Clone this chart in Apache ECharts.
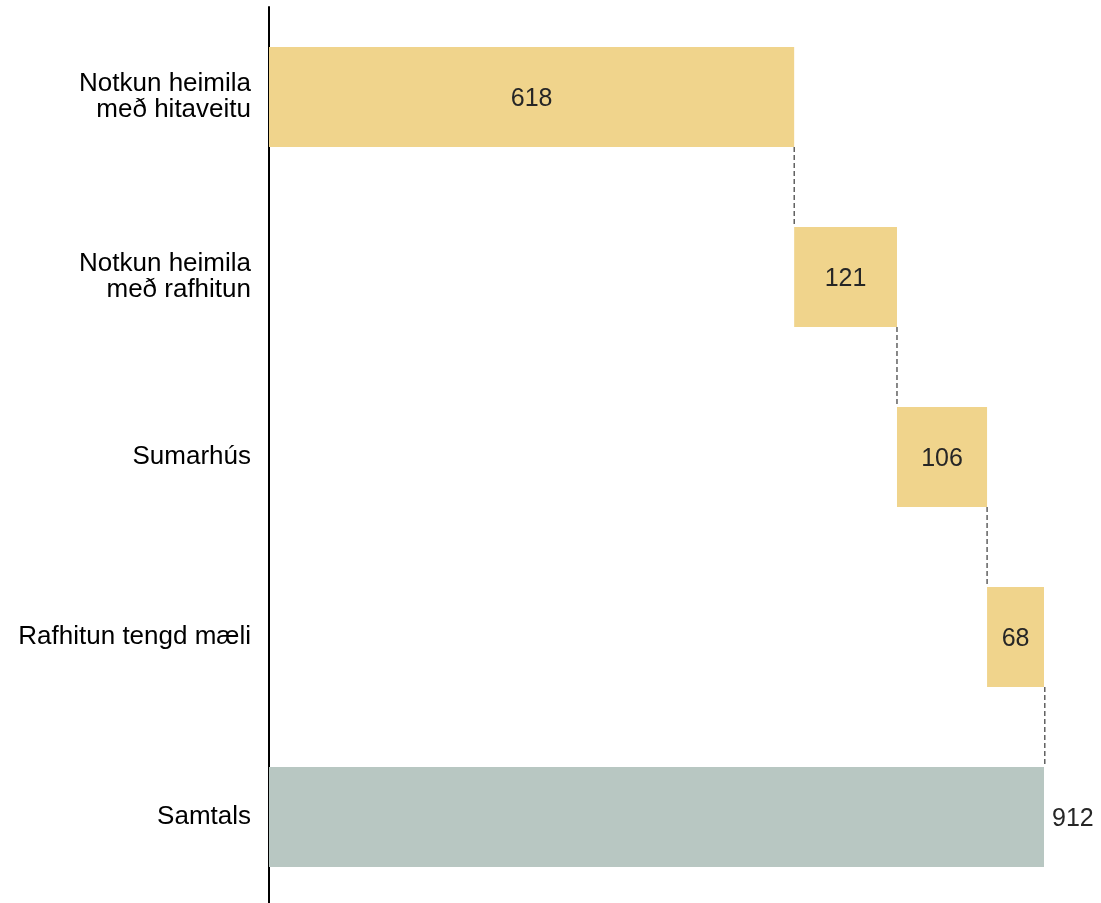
<!DOCTYPE html>
<html>
<head>
<meta charset="utf-8">
<script src="https://cdn.jsdelivr.net/npm/echarts@6/dist/echarts.min.js"></script>
<style>html,body{margin:0;padding:0;background:#fff;overflow:hidden}#c{width:1101px;height:910px}</style>
</head>
<body>
<div id="c"></div>
<script>
const categories = ['Notkun heimila\nmeð hitaveitu', 'Notkun heimila\nmeð rafhitun', 'Sumarhús', 'Rafhitun tengd mæli', 'Samtals'];
const steps = [618, 121, 106, 68];
const total = 912;

const bases = [];
const ends = [];
let acc = 0;
steps.forEach(v => { bases.push(acc); acc += v; ends.push(acc); });

const chart = echarts.init(document.getElementById('c'), null, {renderer: 'canvas'});
const FONT = '"Liberation Sans", Arial, Helvetica, sans-serif';
const YELLOW = '#F0D48C';
const GREEN = '#B8C7C2';

chart.setOption({
  animation: false,
  grid: {left: 269, width: 775, top: 7, height: 900, containLabel: false},
  xAxis: {
    type: 'value', min: 0, max: total, show: false
  },
  yAxis: {
    type: 'category', data: categories, inverse: true,
    axisLine: {show: true, lineStyle: {color: '#000', width: 2}},
    axisTick: {show: false},
    axisLabel: {color: '#000', fontSize: 26, fontFamily: FONT, margin: 18, lineHeight: 26, align: 'right', padding: [4, 0, 0, 0]},
    splitLine: {show: false}
  },
  series: [
    {
      type: 'bar', stack: 'w', barWidth: 100, silent: true,
      itemStyle: {color: 'transparent'},
      data: bases.concat([0])
    },
    {
      type: 'bar', stack: 'w', barWidth: 100,
      data: steps.map(v => ({value: v, itemStyle: {color: YELLOW}, label: {position: 'inside'}}))
        .concat([{value: total, itemStyle: {color: GREEN}, label: {position: 'right', distance: 8}}]),
      label: {show: true, color: '#262626', fontSize: 25, fontFamily: FONT, offset: [0, 2]}
    },
    {
      type: 'custom', silent: true,
      data: ends.map((e, i) => [e, i]),
      encode: {x: 0, y: 1},
      renderItem: function (params, api) {
        const p = api.coord([api.value(0), api.value(1)]);
        const band = api.size([0, 1])[1];
        return {
          type: 'line',
          shape: {x1: p[0], y1: p[1] + 50, x2: p[0], y2: p[1] + band - 50},
          style: {stroke: '#111', lineWidth: 1, lineDash: [5, 3]}
        };
      },
      z: 3
    }
  ]
});
</script>
</body>
</html>
